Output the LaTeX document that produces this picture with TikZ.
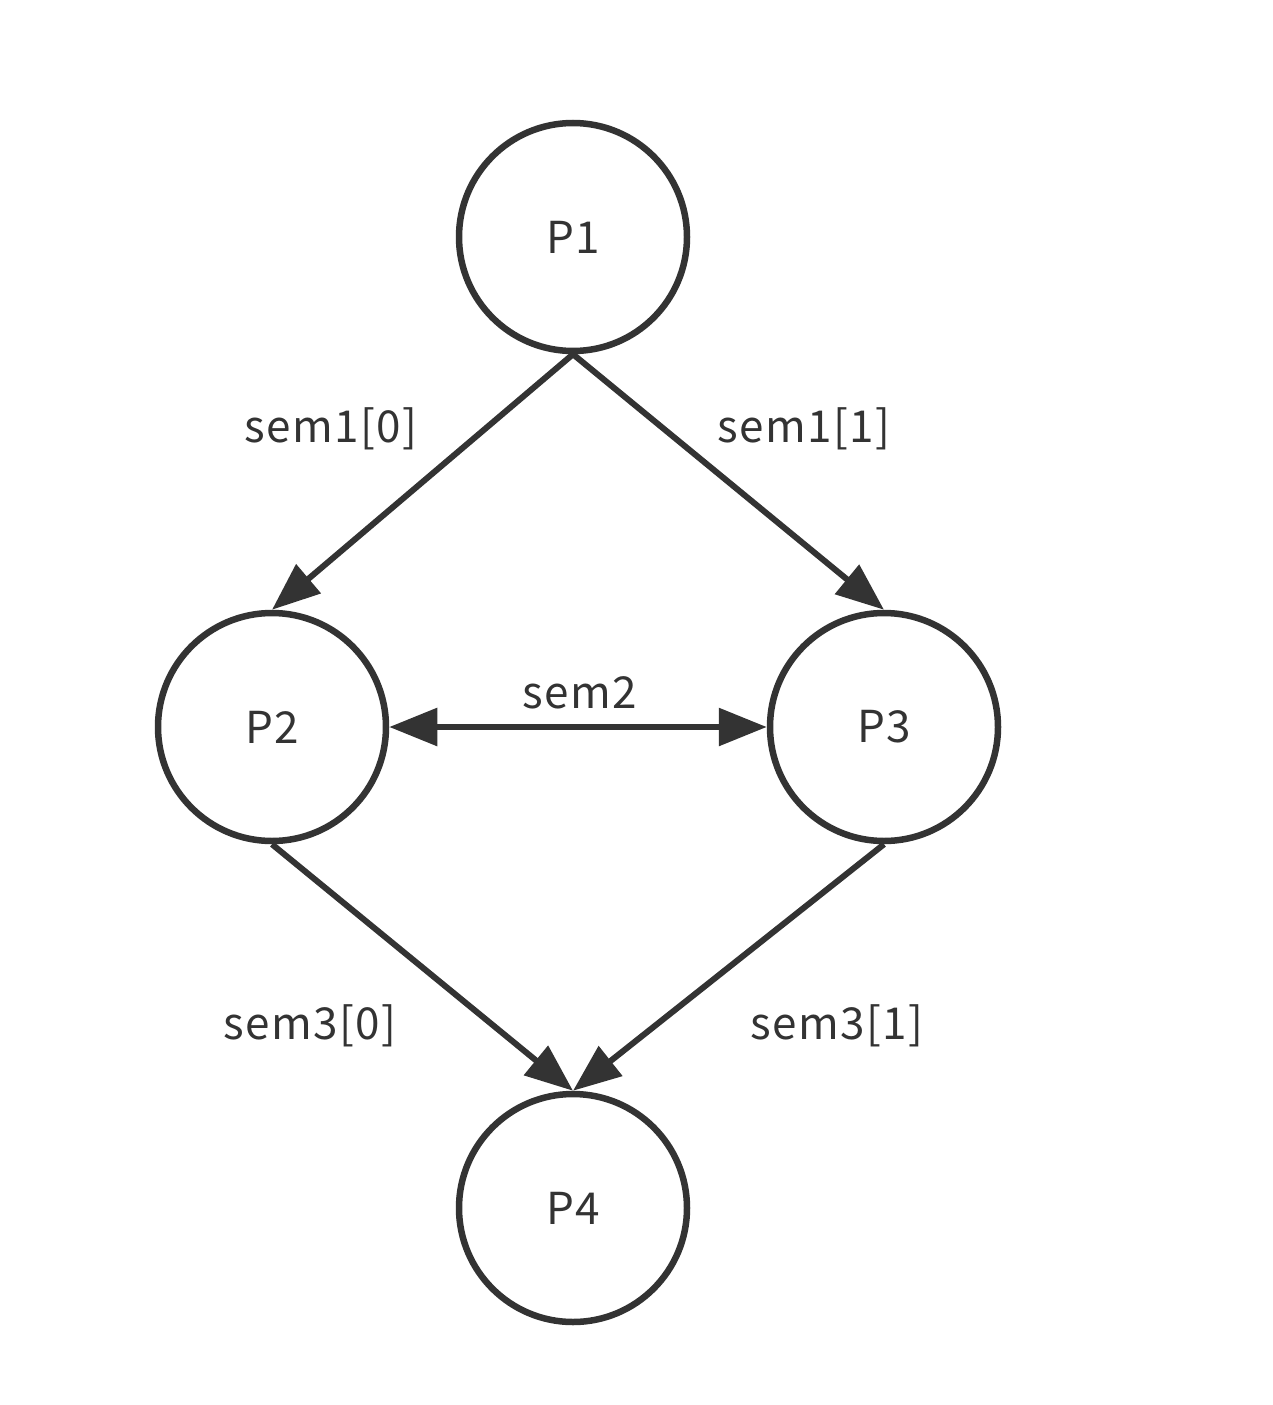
\documentclass[tikz,border=0pt]{standalone}
\usepackage{fontspec}
\newfontfamily\labfont[LetterSpace=3]{Noto Sans CJK SC}
\usetikzlibrary{arrows.meta}
\definecolor{ink}{HTML}{333333}
\begin{document}
\begin{tikzpicture}[x=1pt,y=-1pt,
  proc/.style={circle,draw=ink,line width=6.5pt,minimum size=228pt,inner sep=0pt,
    text=ink,font=\labfont\fontsize{44}{50}\selectfont},
  conn/.style={draw=ink,line width=6pt,-{Triangle[length=48pt,width=37pt]}},
  lab/.style={text=ink,anchor=base,inner sep=0pt,font=\labfont\fontsize{44}{50}\selectfont}]
\useasboundingbox (0,0) rectangle (1272,1405);
\node[proc] (p1) at (573,237) {P1};
\node[proc] (p2) at (272,727) {P2};
\node[proc] (p3) at (884,727) {P3};
\node[proc] (p4) at (573,1208) {P4};
\draw[conn] (p1.south) -- (p2.north);
\draw[conn] (p1.south) -- (p3.north);
\draw[conn] (p2.south) -- (p4.north);
\draw[conn] (p3.south) -- (p4.north);
\draw[conn,{Triangle[length=48pt,width=37pt]}-{Triangle[length=48pt,width=37pt]}] (p2.east) -- (p3.west);
\node[lab] (l1) at (331,442) {sem1[0]};
\node[lab] (l2) at (804,442) {sem1[1]};
\node[lab] (l3) at (580,708) {sem2};
\node[lab] (l4) at (310,1039) {sem3[0]};
\node[lab] (l5) at (837,1039) {sem3[1]};
\end{tikzpicture}
\end{document}
